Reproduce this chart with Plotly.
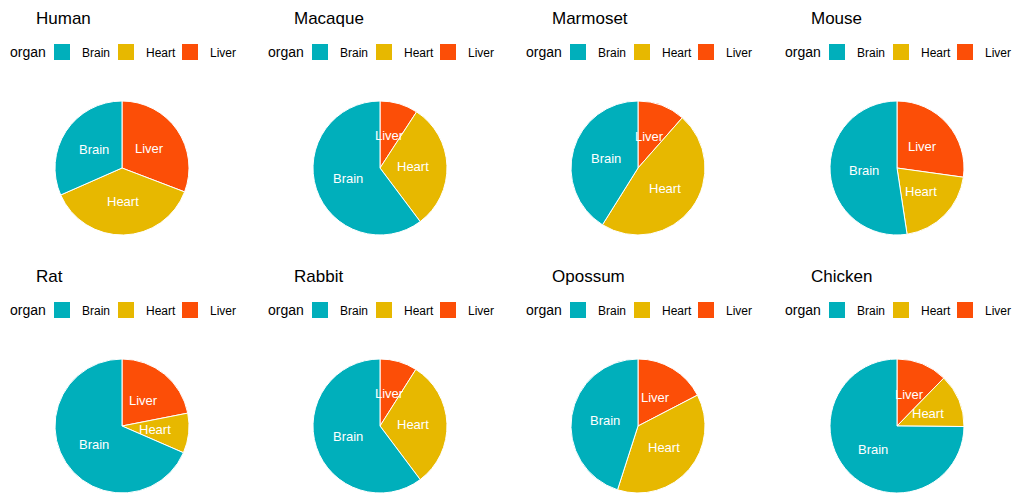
import math
import plotly.graph_objects as go

species = ["Human", "Macaque", "Marmoset", "Mouse", "Rat", "Rabbit", "Opossum", "Chicken"]
organs = ["Brain", "Heart", "Liver"]
brain = [31.6, 60.3, 41.1, 52.4, 68.4, 60.3, 45.1, 74.8]
heart = [37.6, 30.6, 47.4, 20.4, 9.6, 30.8, 37.6, 12.8]
liver = [30.8, 9.2, 11.5, 27.2, 21.9, 9.0, 17.4, 12.3]
colors = {"Brain": "#00AFBB", "Heart": "#E7B800", "Liver": "#FC4E07"}

W, H = 1013, 493
col_cx = [122, 380, 638, 897]
row_cy = [168, 426]
R = 67
FONT = "Liberation Sans, Arial, Helvetica, sans-serif"

fig = go.Figure()
annotations = []
layout_legends = {}
for i, sp in enumerate(species):
    r, c = divmod(i, 4)
    cx, cy = col_cx[c], row_cy[r]
    lg = "legend" if i == 0 else f"legend{i+1}"
    vals = {"Brain": brain[i], "Heart": heart[i], "Liver": liver[i]}
    # slices drawn clockwise from 12 o'clock in reverse order => Brain, Heart, Liver counterclockwise
    order = organs[::-1]
    fig.add_trace(go.Pie(
        labels=order,
        values=[vals[o] for o in order],
        sort=False,
        direction="clockwise",
        rotation=0,
        marker=dict(colors=[colors[o] for o in order], line=dict(color="white", width=1)),
        textinfo="none",
        hoverinfo="label+percent",
        domain=dict(x=[(cx - R) / W, (cx + R) / W], y=[1 - (cy + R) / H, 1 - (cy - R) / H]),
        showlegend=False,
        name=sp,
    ))
    # slice labels at half radius on each slice's mid-angle (counterclockwise from 12 o'clock)
    total = sum(vals.values())
    cum = 0.0
    for o in organs:
        mid = (cum + vals[o] / 2) / total
        cum += vals[o]
        th = 2 * math.pi * mid
        px = cx - 0.5 * R * math.sin(th)
        py = cy - 0.5 * R * math.cos(th)
        annotations.append(dict(
            text=o, x=px / W, y=1 - py / H, xref="paper", yref="paper",
            xanchor="center", yanchor="middle", showarrow=False,
            font=dict(size=13, color="white", family=FONT),
        ))
    # legend proxies
    for o in organs:
        fig.add_trace(go.Scatter(
            x=[None], y=[None], mode="markers", name=o,
            marker=dict(symbol="square", size=16, color=colors[o]),
            legend=lg, showlegend=True, hoverinfo="skip",
            legendwidth=40 if o == "Liver" else 19,
        ))
    annotations.append(dict(
        text=sp, x=(cx - 88) / W, y=1 - (18 + 258 * r) / H,
        xref="paper", yref="paper", xanchor="left", yanchor="middle",
        showarrow=False, font=dict(size=17, color="black", family=FONT),
    ))
    annotations.append(dict(
        text="organ", x=(cx - 114) / W, y=1 - (52 + 258 * r) / H,
        xref="paper", yref="paper", xanchor="left", yanchor="middle",
        showarrow=False, font=dict(size=14, color="black", family=FONT),
    ))
    layout_legends[lg] = dict(
        orientation="h",
        x=(cx - 80) / W, xanchor="left",
        y=1 - (52 + 258 * r) / H, yanchor="middle",
        font=dict(size=12, color="black", family=FONT),
        bgcolor="rgba(0,0,0,0)",
        traceorder="normal",
        itemclick=False, itemdoubleclick=False,
    )

fig.update_layout(
    width=W, height=H,
    margin=dict(l=0, r=0, t=0, b=0, autoexpand=False),
    paper_bgcolor="white",
    plot_bgcolor="white",
    showlegend=True,
    annotations=annotations,
    xaxis=dict(visible=False),
    yaxis=dict(visible=False),
    **layout_legends,
)
fig.write_html("out.html", config={"displayModeBar": False},
               post_script="document.body.style.margin='0';")
